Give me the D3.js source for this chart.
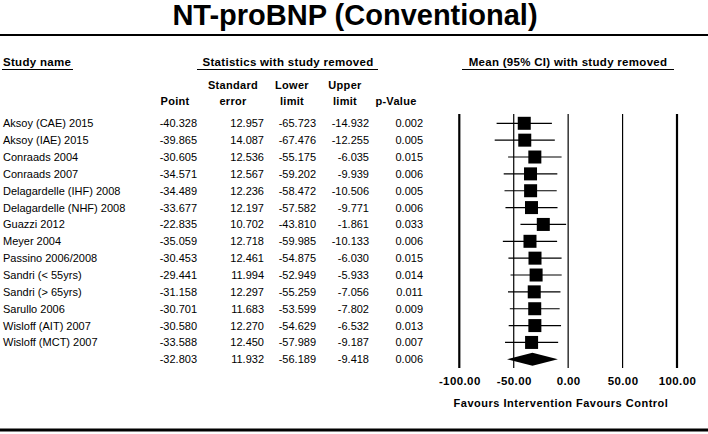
<!DOCTYPE html>
<html>
<head>
<meta charset="utf-8">
<script src="https://cdn.jsdelivr.net/npm/d3@7"></script>
<style>
  body { margin: 0; background: #fff; }
  svg text { font-family: "Liberation Sans", Arial, sans-serif; fill: #000; }
</style>
</head>
<body>
<svg id="chart" width="708" height="434"></svg>
<script>
// study rows (one study removed at a time)
const studies = ["Aksoy (CAE) 2015", "Aksoy (IAE) 2015", "Conraads 2004", "Conraads 2007",
  "Delagardelle (IHF) 2008", "Delagardelle (NHF) 2008", "Guazzi 2012", "Meyer 2004",
  "Passino 2006/2008", "Sandri (< 55yrs)", "Sandri (> 65yrs)", "Sarullo 2006",
  "Wisloff (AIT) 2007", "Wisloff (MCT) 2007"];
const points = [-40.328, -39.865, -30.605, -34.571, -34.489, -33.677, -22.835, -35.059,
  -30.453, -29.441, -31.158, -30.701, -30.580, -33.588];
const stdErrors = [12.957, 14.087, 12.536, 12.567, 12.236, 12.197, 10.702, 12.718,
  12.461, 11.994, 12.297, 11.683, 12.270, 12.450];
const lowerLimits = [-65.723, -67.476, -55.175, -59.202, -58.472, -57.582, -43.810, -59.985,
  -54.875, -52.949, -55.259, -53.599, -54.629, -57.989];
const upperLimits = [-14.932, -12.255, -6.035, -9.939, -10.506, -9.771, -1.861, -10.133,
  -6.030, -5.933, -7.056, -7.802, -6.532, -9.187];
const pValues = [0.002, 0.005, 0.015, 0.006, 0.005, 0.006, 0.033, 0.006,
  0.015, 0.014, 0.011, 0.009, 0.013, 0.007];

// pooled result
const summary = { point: -32.803, se: 11.932, lower: -56.189, upper: -9.418, p: 0.006 };

const axisTicks = [-100, -50, 0, 50, 100];

const svg = d3.select("#chart");
// plain hyphen for negatives, like the original software
const locale = d3.formatLocale({ decimal: ".", thousands: ",", grouping: [3], currency: ["", ""], minus: "-" });
const fmt = locale.format(".3f");
const fmtTick = locale.format(".2f");

// title + top rule
svg.append("text")
  .attr("x", 355).attr("y", 25)
  .attr("text-anchor", "middle")
  .style("font-size", "29px").style("font-weight", "bold")
  .text("NT-proBNP (Conventional)");

svg.append("line")
  .attr("x1", 0).attr("x2", 708).attr("y1", 35).attr("y2", 35)
  .attr("stroke", "#000").attr("stroke-width", 2);

// group headers with underlines
const groupHeads = [
  { text: "Study name", x: 3, anchor: "start", x1: 2, x2: 73 },
  { text: "Statistics with study removed", x: 288, anchor: "middle", x1: 197, x2: 378 },
  { text: "Mean (95% CI) with study removed", x: 568, anchor: "middle", x1: 462, x2: 674 }
];
groupHeads.forEach(h => {
  svg.append("text")
    .attr("x", h.x).attr("y", 66)
    .attr("text-anchor", h.anchor)
    .style("font-size", "11.5px").style("font-weight", "bold")
    .style("letter-spacing", "0.3px")
    .text(h.text);
  svg.append("line")
    .attr("x1", h.x1).attr("x2", h.x2).attr("y1", 69.5).attr("y2", 69.5)
    .attr("stroke", "#000").attr("stroke-width", 1.2);
});

// column headers
const cols = [
  { top: "", bottom: "Point", hx: 175, vx: 197 },
  { top: "Standard", bottom: "error", hx: 233, vx: 264 },
  { top: "Lower", bottom: "limit", hx: 292, vx: 316 },
  { top: "Upper", bottom: "limit", hx: 345, vx: 369 },
  { top: "", bottom: "p-Value", hx: 396, vx: 423 }
];
cols.forEach(c => {
  svg.append("text").attr("x", c.hx).attr("y", 89)
    .attr("text-anchor", "middle")
    .style("font-size", "11px").style("font-weight", "bold").style("letter-spacing", "0.3px")
    .text(c.top);
  svg.append("text").attr("x", c.hx).attr("y", 105)
    .attr("text-anchor", "middle")
    .style("font-size", "11px").style("font-weight", "bold").style("letter-spacing", "0.3px")
    .text(c.bottom);
});

// row scale
const y = d3.scaleLinear().domain([0, studies.length]).range([123.3, 359.3]);

const rows = studies.map((s, i) => ({
  name: s, point: points[i], se: stdErrors[i], lower: lowerLimits[i],
  upper: upperLimits[i], p: pValues[i]
}));

// table text
const rowG = svg.selectAll(".row")
  .data(rows.concat([Object.assign({ name: "" }, summary)]))
  .enter().append("g")
  .attr("class", "row")
  .attr("transform", (d, i) => `translate(0,${y(i) + 4})`);

rowG.append("text").attr("x", 3)
  .style("font-size", "11px")
  .text(d => d.name);

const valueKeys = ["point", "se", "lower", "upper", "p"];
valueKeys.forEach((k, j) => {
  rowG.append("text").attr("x", cols[j].vx)
    .attr("text-anchor", "end")
    .style("font-size", "11px")
    .text(d => fmt(d[k]));
});

// forest plot
const x = d3.scaleLinear().domain([-100, 100]).range([459.3, 677]);

svg.selectAll(".vline")
  .data(axisTicks)
  .enter().append("line")
  .attr("x1", d => x(d)).attr("x2", d => x(d))
  .attr("y1", 114).attr("y2", 368)
  .attr("stroke", "#000")
  .attr("stroke-width", d => Math.abs(d) === 100 ? 2.2 : 1.2);

const ci = svg.selectAll(".ci")
  .data(rows)
  .enter().append("g")
  .attr("transform", (d, i) => `translate(0,${y(i)})`);

ci.append("line")
  .attr("x1", d => x(d.lower)).attr("x2", d => x(d.upper))
  .attr("stroke", "#000").attr("stroke-width", 1.2);

const box = 13;
ci.append("rect")
  .attr("x", d => x(d.point) - box / 2).attr("y", -box / 2)
  .attr("width", box).attr("height", box)
  .attr("fill", "#000");

// summary diamond
const yS = y(studies.length);
svg.append("path")
  .attr("d", `M${x(summary.lower)},${yS} L${x(summary.point)},${yS - 6.5} L${x(summary.upper)},${yS} L${x(summary.point)},${yS + 6.5} Z`)
  .attr("fill", "#000");

// axis labels
const axis = svg.append("g")
  .attr("transform", "translate(0,377)")
  .call(d3.axisBottom(x).tickValues(axisTicks).tickFormat(fmtTick).tickSize(0).tickPadding(0));
axis.select(".domain").remove();
axis.selectAll("text")
  .attr("dy", "0.71em")
  .style("font-size", "11.5px").style("font-weight", "bold").style("letter-spacing", "0.4px")
  .style("font-family", "'Liberation Sans', Arial, sans-serif");

svg.append("text")
  .attr("x", 561).attr("y", 407)
  .attr("text-anchor", "middle")
  .style("font-size", "11px").style("font-weight", "bold").style("letter-spacing", "0.5px")
  .text("Favours Intervention Favours Control");

// bottom rule
svg.append("line")
  .attr("x1", 0).attr("x2", 708).attr("y1", 430).attr("y2", 430)
  .attr("stroke", "#000").attr("stroke-width", 3);
</script>
</body>
</html>
